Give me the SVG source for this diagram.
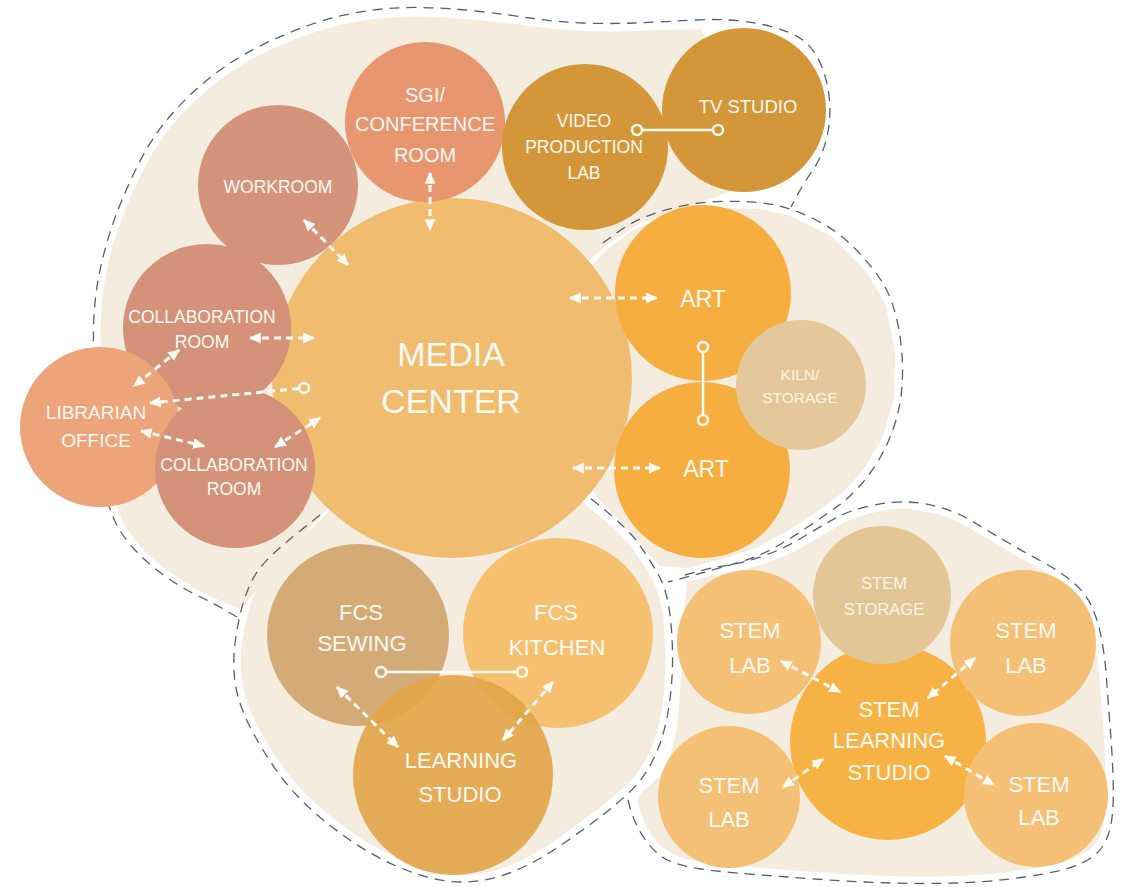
<svg xmlns="http://www.w3.org/2000/svg" width="1133" height="887" viewBox="0 0 1133 887">
<style>
.zone{fill:#f4ecdf;stroke:#f4ecdf;stroke-width:2;stroke-linejoin:round}
.dash{fill:none;stroke:#5a5e68;stroke-width:1.3;stroke-dasharray:10 7}
.t{fill:#fffaf2;font-family:"Liberation Sans",Arial,sans-serif;text-anchor:middle}
.tl{fill:#fbf4e8;font-family:"Liberation Sans",Arial,sans-serif;text-anchor:middle}
.arr{fill:none;stroke:#fffaf2;stroke-width:3;stroke-dasharray:7 5;marker-start:url(#ah);marker-end:url(#ah)}
.arr1{fill:none;stroke:#fffaf2;stroke-width:3;stroke-dasharray:7 5;marker-end:url(#ah)}
.link{fill:none;stroke:#fffaf2;stroke-width:2.5}
.dot{fill:none;stroke:#fffaf2;stroke-width:2.5}
</style>
<defs>
<marker id="ah" viewBox="0 0 10 10" refX="9" refY="5" markerWidth="12" markerHeight="12" markerUnits="userSpaceOnUse" orient="auto-start-reverse">
<path d="M0,0.5 L10,5 L0,9.5 Z" fill="#fffaf2"/>
</marker>
</defs>
<rect width="1133" height="887" fill="#ffffff"/>

<g id="zones">
<path class="zone" d="M240,608 L226,602 Q212,596 197,588 Q182,580 167,569 Q152,558 141,545.5 Q130,533 123.5,520.5 Q117,508 112,488 Q107,468 104.5,444 Q102,420 101.5,390 Q101,360 101.5,330 Q102,300 106.5,276 Q111,252 119.5,228 Q128,204 142,175 Q156,146 173.5,125 Q191,104 213.5,86 Q236,68 262,55 Q288,42 314,33.5 Q340,25 366.5,21 Q393,17 421.5,17.5 Q450,18 479,21 Q508,24 532.5,27.5 Q557,31 583.5,32 Q610,33 634.5,32 Q659,31 700,30 L745,110 L730,190 L690,206 L640,222 L605,245 L452,378 L320,515 Z"/>
<path class="zone" d="M608,250 L633,231 L662,219 L695,211 L727,209 L758,210 L788,216 L831,237 L865,272 L884,303 L894,350 L893,398 L882,436 L865,466 L844,490 L822,507 L789,529 L756,547 L718,559 L688,567 L660,565 L630,530 L600,500 L560,440 L560,300 Z"/>
<path class="zone" d="M318,524 L302,538.5 Q286,553 275.5,564 Q265,575 259,586.5 Q253,598 249,613 Q245,628 243,644 Q241,660 242.5,676.5 Q244,693 252,712 Q260,731 276.5,756 Q293,781 314,800.5 Q335,820 359,836 Q383,852 410.5,863 Q438,874 462,874 Q486,874 509.5,864.5 Q533,855 557.5,837.5 Q582,820 594.5,810.5 Q607,801 622,788 Q637,775 646.5,756 Q656,737 660,713.5 Q664,690 664.5,665 Q665,640 662,616.5 Q659,593 651,579 Q643,565 631.5,549 Q620,533 588,508 L452,378 Z"/>
<path class="zone" d="M688,583 L700,579.5 Q712,576 730.5,573 Q749,570 769,563 Q789,556 806,546 Q823,536 838.5,527 Q854,518 874,513.5 Q894,509 909,510 Q924,511 939,515.5 Q954,520 970,529.5 Q986,539 1003,549 Q1020,559 1036.5,568 Q1053,577 1065.5,587.5 Q1078,598 1084,610.5 Q1090,623 1093.5,640.5 Q1097,658 1098.5,679 Q1100,700 1102,725 Q1104,750 1105,775 Q1106,800 1104,816 Q1102,832 1095.5,841.5 Q1089,851 1073,857.5 Q1057,864 1023,869 Q989,874 956,875 Q923,876 889.5,875 Q856,874 822.5,871.5 Q789,869 755.5,866.5 Q722,864 702.5,861 Q683,858 673,853 Q663,848 655.5,838.5 Q648,829 644,818.5 Q640,808 639,801.5 Q638,795 649,787.5 Q660,780 668,762.5 Q676,745 679,717.5 Q682,690 682.5,660 Q683,630 688,583 Z"/>
</g>

<g id="zone-outlines">
<path class="dash" d="M237,617 L225,610 Q213,603 196.5,595 Q180,587 163.5,575 Q147,563 135,550 Q123,537 116.5,524.5 Q110,512 105,491 Q100,470 97.5,445 Q95,420 94,390 Q93,360 93.5,330 Q94,300 99,275 Q104,250 112.5,225 Q121,200 135.5,170 Q150,140 168,118.5 Q186,97 209,78.5 Q232,60 259,46.5 Q286,33 312.5,24 Q339,15 366,11 Q393,7 421.5,7.5 Q450,8 480,11.5 Q510,15 533.5,18.5 Q557,22 583.5,23 Q610,24 634.5,23 Q659,22 694.5,20 Q730,18 760,24 Q790,30 804,41 Q818,52 825,76 Q832,100 829,125 Q826,150 813,170 Q801,187 791,207"/>
<path class="dash" d="M603,243 L616.5,233 Q630,223 645,217 Q660,211 677,207 Q694,203 710.5,202 Q727,201 743,201.5 Q759,202 775,205 Q791,208 814,219 Q837,230 855,248.5 Q873,267 883,283.5 Q893,300 898,325 Q903,350 902.5,375 Q902,400 896,420 Q890,440 881,456 Q872,472 861,484.5 Q850,497 838.5,505.5 Q827,514 810,525.5 Q793,537 776.5,546.5 Q760,556 740,562 Q720,568 703.5,572.5 Q687,577 668,582"/>
<path class="dash" d="M320,515 L300,531 Q280,547 268.5,558.5 Q257,570 251,582.5 Q245,595 241,611 Q237,627 235,643.5 Q233,660 234.5,677.5 Q236,695 244.5,715 Q253,735 270,761 Q287,787 308.5,807 Q330,827 355,843.5 Q380,860 408.5,871 Q437,882 462,882 Q487,882 512,872 Q537,862 562,844.5 Q587,827 599.5,817.5 Q612,808 627.5,794 Q643,780 653,760 Q663,740 667.5,715 Q672,690 672.5,665 Q673,640 670,615 Q667,590 658.5,575 Q650,560 638.5,543.5 Q627,527 590,498"/>
<path class="dash" d="M685,575 L697.5,571.5 Q710,568 728.5,565 Q747,562 766,555 Q785,548 801.5,538 Q818,528 834,519 Q850,510 871.5,505.5 Q893,501 909,502 Q925,503 941,507.5 Q957,512 973.5,522 Q990,532 1007,542 Q1024,552 1041,561 Q1058,570 1071.5,581 Q1085,592 1091.5,606 Q1098,620 1101.5,638.5 Q1105,657 1106.5,678.5 Q1108,700 1110,725 Q1112,750 1113,775 Q1114,800 1112,817.5 Q1110,835 1102.5,846.5 Q1095,858 1077.5,865 Q1060,872 1025,877 Q990,882 956.5,883 Q923,884 889.5,883 Q856,882 822,879.5 Q788,877 754.5,874.5 Q721,872 700.5,869 Q680,866 668.5,860.5 Q657,855 648.5,844 Q640,833 635,821.5 Q630,810 627,795"/>
</g>

<g id="media-center"><circle cx="452" cy="378" r="180" fill="#f0bd70"/>
<text class="t" x="451" y="366" font-size="34">MEDIA</text><text class="t" x="451" y="413" font-size="34">CENTER</text></g>

<g id="workroom"><circle cx="278" cy="185" r="80" fill="#d4947c"/>
<text class="t" x="278" y="193" font-size="17.5">WORKROOM</text></g>

<g id="sgi-conference"><circle cx="425" cy="122" r="80" fill="#e8966f"/>
<text class="t" x="425" y="102" font-size="20">SGI/</text><text class="t" x="425" y="131" font-size="20">CONFERENCE</text><text class="t" x="425" y="162" font-size="20">ROOM</text></g>

<g id="video-production-lab"><circle cx="585" cy="147" r="83" fill="#d39638"/>
<text class="t" x="584" y="127" font-size="17.5">VIDEO</text><text class="t" x="584" y="153" font-size="17.5">PRODUCTION</text><text class="t" x="584" y="179" font-size="17.5">LAB</text></g>

<g id="tv-studio"><circle cx="744" cy="110" r="82" fill="#d39638"/>
<text class="t" x="748" y="113" font-size="18.5">TV STUDIO</text></g>

<g id="collaboration-room-1"><circle cx="207" cy="328" r="84" fill="#d39279"/>
<text class="t" x="202" y="323" font-size="17.5">COLLABORATION</text><text class="t" x="202" y="348" font-size="17.5">ROOM</text></g>

<g id="librarian-office"><circle cx="100" cy="427" r="80" fill="#eea47a"/>
<text class="t" x="96" y="419" font-size="19">LIBRARIAN</text><text class="t" x="96" y="447" font-size="19">OFFICE</text></g>

<g id="collaboration-room-2"><circle cx="235" cy="468" r="80" fill="#d39279"/>
<text class="t" x="234" y="471" font-size="17.5">COLLABORATION</text><text class="t" x="234" y="495" font-size="17.5">ROOM</text></g>

<g id="art-1"><circle cx="703" cy="293" r="88" fill="#f6ae40"/>
<text class="t" x="703" y="307" font-size="23">ART</text></g>

<g id="art-2"><circle cx="702" cy="470" r="88" fill="#f6ae40"/>
<text class="t" x="706" y="477" font-size="23">ART</text></g>

<g id="kiln-storage"><circle cx="801" cy="385" r="65" fill="#e4c89c"/>
<text class="tl" x="800" y="380" font-size="15.5">KILN/</text><text class="tl" x="800" y="403" font-size="15.5">STORAGE</text></g>

<g id="fcs-sewing"><circle cx="358" cy="635" r="91" fill="#d4ab76"/>
<text class="t" x="361" y="620" font-size="22">FCS</text><text class="t" x="362" y="651" font-size="22">SEWING</text></g>

<g id="fcs-kitchen"><circle cx="558" cy="633" r="95" fill="#f5c170"/>
<text class="t" x="556" y="620" font-size="22">FCS</text><text class="t" x="557" y="655" font-size="22">KITCHEN</text></g>

<g id="learning-studio"><circle cx="453" cy="775" r="100" fill="#e2a548" fill-opacity="0.9"/>
<text class="t" x="461" y="768" font-size="22">LEARNING</text><text class="t" x="460" y="802" font-size="22">STUDIO</text></g>

<g id="stem-learning-studio"><circle cx="888" cy="742" r="98" fill="#f6b244"/>
<text class="t" x="889" y="717" font-size="22">STEM</text><text class="t" x="889" y="748" font-size="22">LEARNING</text><text class="t" x="889" y="780" font-size="22">STUDIO</text></g>

<g id="stem-storage"><circle cx="882" cy="595" r="69" fill="#e3c696"/>
<text class="tl" x="884" y="589" font-size="16.5">STEM</text><text class="tl" x="884" y="615" font-size="16.5">STORAGE</text></g>

<g id="stem-lab-1"><circle cx="749" cy="642" r="72" fill="#f3c075"/>
<text class="t" x="750" y="638" font-size="22">STEM</text><text class="t" x="750" y="673" font-size="22">LAB</text></g>

<g id="stem-lab-2"><circle cx="1023" cy="643" r="73" fill="#f3c075"/>
<text class="t" x="1026" y="638" font-size="22">STEM</text><text class="t" x="1026" y="673" font-size="22">LAB</text></g>

<g id="stem-lab-3"><circle cx="729" cy="797" r="71" fill="#f3c075"/>
<text class="t" x="729" y="793" font-size="22">STEM</text><text class="t" x="729" y="827" font-size="22">LAB</text></g>

<g id="stem-lab-4"><circle cx="1036" cy="795" r="72" fill="#f3c075"/>
<text class="t" x="1039" y="792" font-size="22">STEM</text><text class="t" x="1039" y="825" font-size="22">LAB</text></g>

<g id="connectors">
<line class="arr" x1="304" y1="220" x2="348" y2="265"/>
<line class="arr" x1="430" y1="173" x2="430" y2="230"/>
<line class="arr" x1="250" y1="338" x2="314" y2="338"/>
<line class="arr" x1="179" y1="350" x2="134" y2="386"/>
<circle class="dot" cx="304" cy="388" r="5"/>
<line class="arr1" x1="299" y1="388.5" x2="150" y2="403"/>
<line class="arr" x1="141" y1="431" x2="204" y2="446"/>
<line class="arr" x1="275" y1="447" x2="320" y2="418"/>
<line class="arr" x1="570" y1="298" x2="657" y2="298"/>
<line class="arr" x1="573" y1="468" x2="660" y2="468"/>
<line class="arr" x1="337" y1="687" x2="398" y2="747"/>
<line class="arr" x1="553" y1="682" x2="503" y2="740"/>
<line class="arr" x1="781" y1="661" x2="840" y2="692"/>
<line class="arr" x1="975" y1="658" x2="928" y2="698"/>
<line class="arr" x1="783" y1="787" x2="823" y2="759"/>
<line class="arr" x1="945" y1="756" x2="994" y2="785"/>
<line class="link" x1="642" y1="130" x2="713" y2="130"/>
<circle class="dot" cx="637" cy="130" r="5"/>
<circle class="dot" cx="718" cy="130" r="5"/>
<line class="link" x1="703" y1="352" x2="703" y2="415"/>
<circle class="dot" cx="703" cy="347" r="5"/>
<circle class="dot" cx="703" cy="420" r="5"/>
<line class="link" x1="386" y1="672" x2="517" y2="672"/>
<circle class="dot" cx="381" cy="672" r="5"/>
<circle class="dot" cx="522" cy="672" r="5"/>
</g>
</svg>
